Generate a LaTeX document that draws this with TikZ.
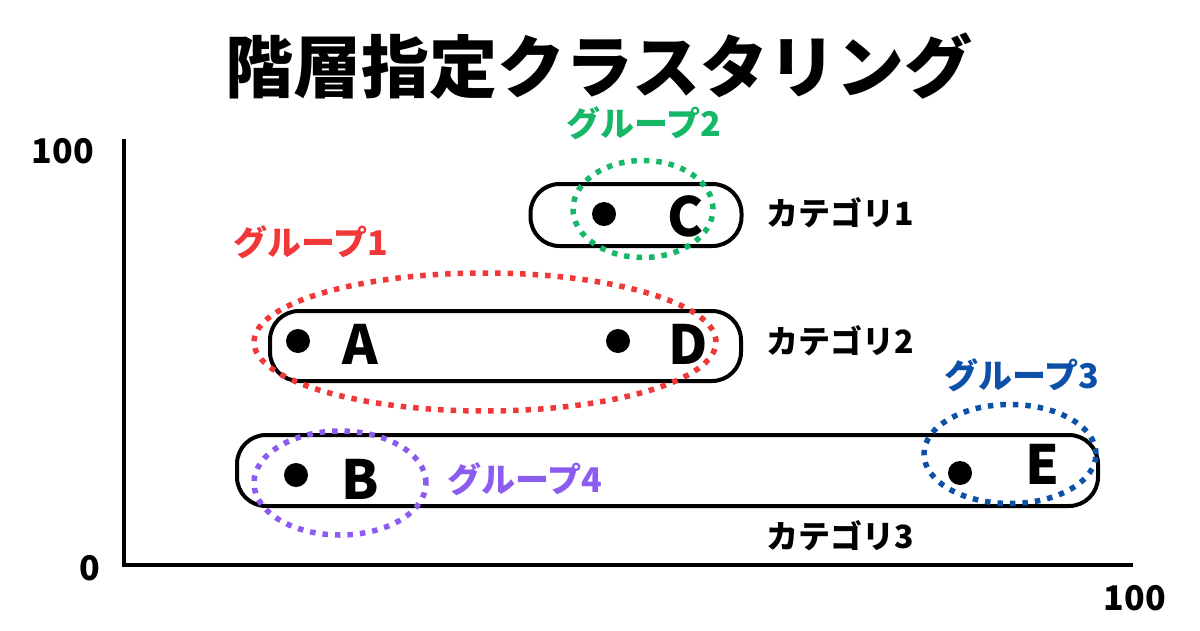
\documentclass[tikz,border=0pt]{standalone}
\usepackage{fontspec}
\setmainfont{Noto Sans CJK JP}
\usetikzlibrary{shapes.geometric}
\definecolor{gred}{RGB}{240,56,56}
\definecolor{ggreen}{RGB}{22,184,104}
\definecolor{gpurple}{RGB}{140,92,240}
\definecolor{gblue}{RGB}{12,80,168}
\tikzset{
  catbox/.style={draw=black, line width=4pt, rounded corners=29pt, rectangle, inner sep=0pt},
  grpell/.style={ellipse, draw, line width=5.5pt, dash pattern=on 5.5pt off 7pt, inner sep=0pt},
  ptdot/.style={circle, fill=black, minimum size=24pt, inner sep=0pt},
  letter/.style={inner sep=0pt, font=\fontsize{54}{54}\selectfont\bfseries},
  catlabel/.style={inner sep=0pt, font=\fontsize{32}{32}\selectfont\bfseries},
  grplabel/.style={inner sep=0pt, font=\fontsize{34}{34}\selectfont\bfseries},
  axlabel/.style={inner sep=0pt, font=\fontsize{34}{34}\selectfont\bfseries},
  axline/.style={line width=4pt, line cap=butt}
}
\begin{document}
\begin{tikzpicture}[x=1pt,y=-1pt]
\useasboundingbox[fill=white] (0,0) rectangle (1200,630);
% title
\node[inner sep=0pt, font=\fontsize{68}{68}\selectfont\bfseries] (title) at (599,66) {階層指定クラスタリング};
% axes
\coordinate (ytop) at (124,139);
\coordinate (orig) at (124,565);
\coordinate (xend) at (1133,565);
\draw[axline] (ytop) -- (orig) -- (xend);
\node[axlabel] (l100y) at (63,151) {100};
\node[axlabel] (l0) at (90,568) {0};
\node[axlabel] (l100x) at (1135,598) {100};
% category boxes
\node[catbox, minimum width=211pt, minimum height=62pt] (k1) at (636,215) {};
\node[catbox, minimum width=471pt, minimum height=70pt] (k2) at (505.5,346) {};
\node[catbox, minimum width=861pt, minimum height=71pt] (k3) at (667.5,470.5) {};
\node[catlabel] (c1) at (840,213) {カテゴリ1};
\node[catlabel] (c2) at (840,341) {カテゴリ2};
\node[catlabel] (c3) at (840,536) {カテゴリ3};
% points
\node[ptdot] (pC) at (604,214) {};
\node[ptdot] (pA) at (298,341) {};
\node[ptdot] (pD) at (618,341) {};
\node[ptdot] (pB) at (296,475) {};
\node[ptdot] (pE) at (960,473) {};
\node[letter] (tC) at (686,216) {C};
\node[letter] (tA) at (360,344) {A};
\node[letter] (tD) at (688,344) {D};
\node[letter] (tB) at (360,479) {B};
\node[letter] (tE) at (1042,464) {E};
% groups
\node[grpell, draw=ggreen, minimum width=140pt, minimum height=97pt] (g2) at (643,209) {};
\node[grpell, draw=gred, minimum width=462pt, minimum height=138pt] (g1) at (485,342) {};
\node[grpell, draw=gpurple, minimum width=172pt, minimum height=104pt] (g4) at (340,483) {};
\node[grpell, draw=gblue, minimum width=172pt, minimum height=99pt] (g3) at (1010,454) {};
\node[grplabel, text=ggreen] (lg2) at (644,123) {グループ2};
\node[grplabel, text=gred] (lg1) at (311,242) {グループ1};
\node[grplabel, text=gpurple] (lg4) at (525,479) {グループ4};
\node[grplabel, text=gblue] (lg3) at (1022,375) {グループ3};
\end{tikzpicture}
\end{document}
